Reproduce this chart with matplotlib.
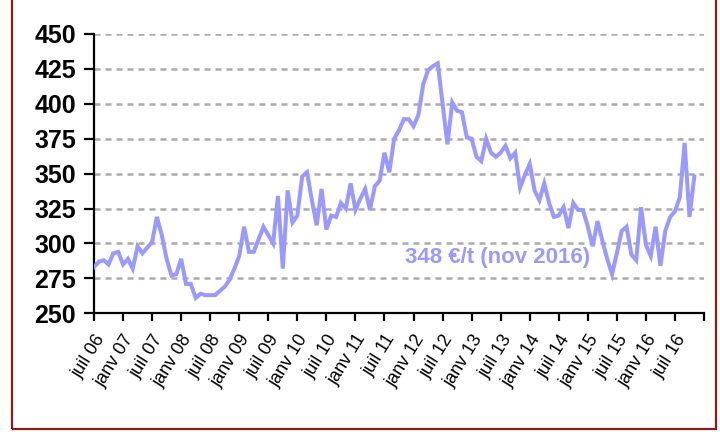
import matplotlib
matplotlib.use('Agg')
import matplotlib.pyplot as plt
from matplotlib.patches import Rectangle

plt.rcParams['font.family'] = ['Liberation Sans', 'DejaVu Sans']

# prix mensuel (EUR/t), juil 06 -> nov 16
prix = [
    283, 287, 288, 285, 293, 294, 285, 289, 282, 298, 293, 297,   # juil 06 - juin 07
    301, 319, 306, 289, 277, 278, 289, 271, 271, 261, 264, 263,   # juil 07 - juin 08
    263, 263, 266, 269, 274, 282, 291, 312, 294, 294, 303, 312,   # juil 08 - juin 09
    306, 300, 334, 282, 338, 315, 320, 348, 351, 331, 313, 339,   # juil 09 - juin 10
    310, 320, 319, 329, 325, 343, 324, 332, 339, 324, 341, 345,   # juil 10 - juin 11
    365, 351, 375, 381, 389, 389, 384, 392, 414, 424, 427, 429,   # juil 11 - juin 12
    400, 371, 401, 395, 394, 376, 375, 362, 359, 375, 365, 362,   # juil 12 - juin 13
    365, 370, 361, 365, 340, 349, 357, 338, 331, 343, 329, 319,   # juil 13 - juin 14
    320, 326, 311, 329, 324, 324, 312, 298, 316, 302, 289, 278,   # juil 14 - juin 15
    293, 309, 312, 292, 288, 326, 299, 291, 312, 284, 309, 319,   # juil 15 - juin 16
    323, 333, 372, 319, 348,                                      # juil 16 - nov 16
]
etiquettes = ['juil 06', 'janv 07', 'juil 07', 'janv 08', 'juil 08', 'janv 09',
              'juil 09', 'janv 10', 'juil 10', 'janv 11', 'juil 11', 'janv 12',
              'juil 12', 'janv 13', 'juil 13', 'janv 14', 'juil 14', 'janv 15',
              'juil 15', 'janv 16', 'juil 16']
yticks = [250, 275, 300, 325, 350, 375, 400, 425, 450]

fig = plt.figure(figsize=(7.2, 4.32), dpi=100)
ax = fig.add_axes([94 / 720, 1 - 313.3 / 432, 610 / 720, 279.3 / 432])

mois = list(range(len(prix)))
ax.plot(mois, prix, color='#9999FF', linewidth=2.9, solid_joinstyle='miter', zorder=3)

ax.set_xlim(0, 126)
ax.set_ylim(250, 450)
ax.set_yticks(yticks)
ax.set_yticklabels([str(v) for v in yticks], fontsize=18, fontweight='bold')
ax.set_xticks(range(0, 127, 6))
ax.set_xticklabels(etiquettes + [''], rotation=58, ha='right', rotation_mode='anchor',
                   fontsize=13)

for v in yticks[1:]:
    ax.axhline(v, color='#ABABAB', linewidth=1.8, linestyle=(0, (2.4, 2.0)), zorder=1)

for s in ['top', 'right']:
    ax.spines[s].set_visible(False)
for s in ['left', 'bottom']:
    ax.spines[s].set_linewidth(1.6)
ax.tick_params(axis='y', direction='out', length=7, width=1.6, pad=6)
ax.tick_params(axis='x', direction='out', length=6, width=1.6, pad=7)

ax.text(64.3, 290, '348 €/t (nov 2016)', color='#9999FF', fontsize=16,
        fontweight='bold', ha='left', va='center')

fig.patches.append(Rectangle((12 / 720, 3 / 432), 704 / 720, 0.999, transform=fig.transFigure,
                             fill=False, edgecolor='#8B1A1A', linewidth=1.6))

fig.savefig('out.png', dpi=100)
